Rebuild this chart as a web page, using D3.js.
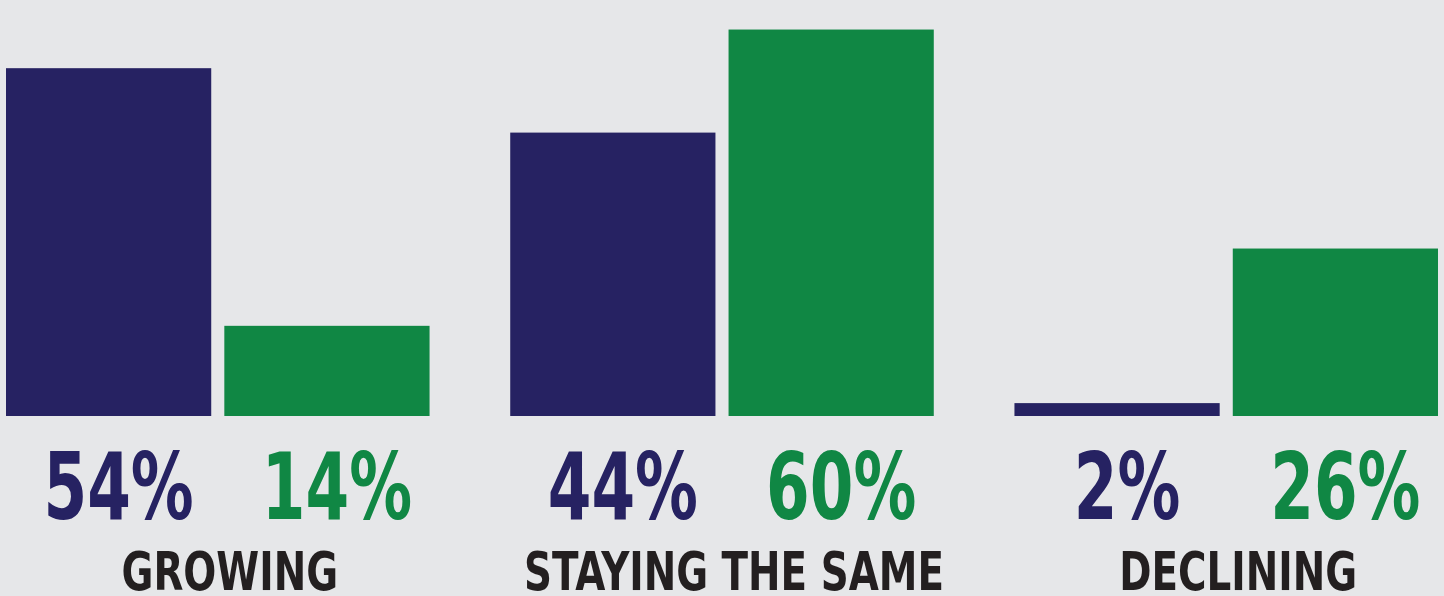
<!DOCTYPE html>
<html>
<head>
<meta charset="utf-8">
<script src="https://cdn.jsdelivr.net/npm/d3@7"></script>
<style>
  html, body { margin: 0; padding: 0; background: #e6e7e9; }
  svg { display: block; }
</style>
</head>
<body>
<div id="chart"></div>
<script>
// Data
const categories = ["GROWING", "STAYING THE SAME", "DECLINING"];
const series = ["a", "b"];
const valuesA = [54, 44, 2];
const valuesB = [14, 60, 26];
const colors = ["#262262", "#108744"];

const width = 1444, height = 596;
const baseline = 416;
const font = "'DejaVu Sans Condensed', 'DejaVu Sans', sans-serif";

const svg = d3.select("#chart").append("svg")
    .attr("width", width)
    .attr("height", height);

svg.append("rect")
    .attr("width", width)
    .attr("height", height)
    .attr("fill", "#e6e7e9");

// Scales
const x0 = d3.scaleBand()
    .domain(categories)
    .range([6, 1438])
    .paddingInner(0.16)
    .paddingOuter(0);

const x1 = d3.scaleBand()
    .domain(series)
    .range([0, x0.bandwidth()])
    .paddingInner(0.06);

const y = d3.scaleLinear()
    .domain([0, 63.5])
    .range([baseline, 7]);

const color = d3.scaleOrdinal().domain(series).range(colors);

const rows = categories.map((c, i) => ({
    category: c,
    items: [
        { key: "a", value: valuesA[i] },
        { key: "b", value: valuesB[i] }
    ]
}));

const groups = svg.selectAll(".group")
    .data(rows)
    .enter().append("g")
    .attr("class", "group")
    .attr("transform", d => `translate(${x0(d.category)},0)`);

// Bars
groups.selectAll(".bar")
    .data(d => d.items)
    .enter().append("rect")
    .attr("class", "bar")
    .attr("x", d => x1(d.key))
    .attr("y", d => y(d.value))
    .attr("width", x1.bandwidth())
    .attr("height", d => baseline - y(d.value))
    .attr("fill", d => color(d.key));

// Percentage labels (condensed horizontally)
groups.selectAll(".pct")
    .data(d => d.items)
    .enter().append("text")
    .attr("class", "pct")
    .attr("transform", d => `translate(${x1(d.key) + x1.bandwidth() / 2 + 10},519) scale(0.75,1)`)
    .attr("text-anchor", "middle")
    .style("font-family", font)
    .style("font-weight", "bold")
    .style("font-size", "93px")
    .attr("fill", d => color(d.key))
    .text(d => d.value + "%");

// Category labels
groups.append("text")
    .attr("transform", `translate(${x0.bandwidth() / 2 + 12},590) scale(0.8,1)`)
    .attr("text-anchor", "middle")
    .style("font-family", font)
    .style("font-weight", "bold")
    .style("font-size", "54px")
    .attr("fill", "#231f20")
    .text(d => d.category);
</script>
</body>
</html>
